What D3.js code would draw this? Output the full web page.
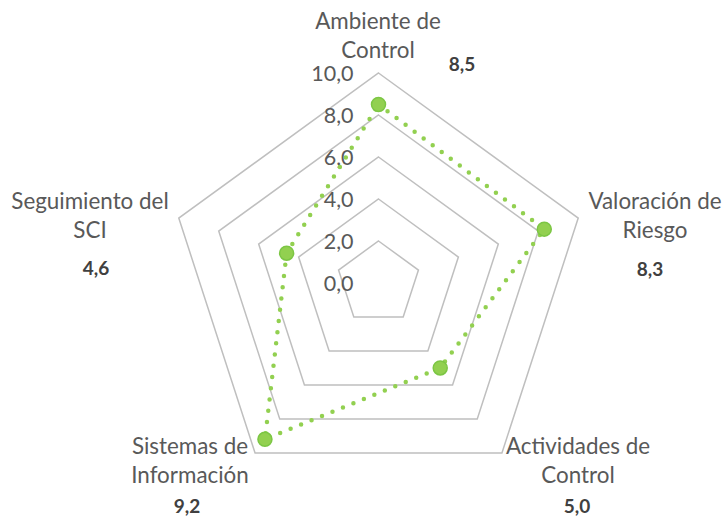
<!DOCTYPE html>
<html>
<head>
<meta charset="utf-8">
<script src="https://cdn.jsdelivr.net/npm/d3@7"></script>
<style>
  html, body { margin: 0; padding: 0; background: #ffffff; }
  svg { display: block; }
</style>
</head>
<body>
<svg id="chart" width="722" height="516"></svg>
<script>
// ---- data ----
const categories = [
  ["Ambiente de", "Control"],
  ["Valoración de", "Riesgo"],
  ["Actividades de", "Control"],
  ["Sistemas de", "Información"],
  ["Seguimiento del", "SCI"]
];
const values = [8.5, 8.3, 5.0, 9.2, 4.6];
const tickValues = [0, 2, 4, 6, 8, 10];
const tickLabels = ["0,0", "2,0", "4,0", "6,0", "8,0", "10,0"];

// ---- layout ----
const cx = 378.5, cy = 283, R = 210;
const fontFamily = "Lato, 'Open Sans', sans-serif";
// label placement (centre x, first line y, value label x, value label y)
const labelLayout = [
  { x: 378, y: 20,  vx: 462, vy: 63 },
  { x: 655, y: 200, vx: 650, vy: 268 },
  { x: 578, y: 445, vx: 577, vy: 505 },
  { x: 190, y: 445, vx: 187, vy: 505 },
  { x: 90,  y: 200, vx: 96,  vy: 267 }
];

const svg = d3.select("#chart");
const r = d3.scaleLinear().domain([0, 10]).range([0, R]);
const angle = d3.scaleLinear().domain([0, categories.length]).range([0, 2 * Math.PI]);

const pt = (i, v) => {
  const a = angle(i);
  return [cx + r(v) * Math.sin(a), cy - r(v) * Math.cos(a)];
};

// grid pentagons (levels > 0)
const g = svg.append("g");
tickValues.filter(t => t > 0).forEach(t => {
  const pts = categories.map((c, i) => pt(i, t));
  g.append("path")
    .attr("d", d3.line()(pts) + "Z")
    .attr("fill", "none")
    .attr("stroke", "#bfbfbf")
    .attr("stroke-width", 1.5);
});

// tick labels
tickValues.forEach((t, k) => {
  svg.append("text")
    .attr("x", cx - 25)
    .attr("y", cy - r(t))
    .attr("text-anchor", "end")
    .attr("dominant-baseline", "central")
    .attr("font-family", fontFamily)
    .attr("font-size", 21.5)
    .attr("fill", "#595959")
    .text(tickLabels[k]);
});

// series line (dotted)
const linePts = values.map((v, i) => pt(i, v));
svg.append("path")
  .attr("d", d3.line()(linePts) + "Z")
  .attr("fill", "none")
  .attr("stroke", "#92d050")
  .attr("stroke-width", 4.5)
  .attr("stroke-linecap", "round")
  .attr("stroke-dasharray", "0 11.3");

// markers
svg.selectAll("circle.m").data(values).enter().append("circle")
  .attr("class", "m")
  .attr("cx", (d, i) => pt(i, d)[0])
  .attr("cy", (d, i) => pt(i, d)[1])
  .attr("r", 7)
  .attr("fill", "#92d050")
  .attr("stroke", "#7cc644")
  .attr("stroke-width", 1.5);

// category labels
categories.forEach((lines, i) => {
  const L = labelLayout[i];
  const t = svg.append("text")
    .attr("text-anchor", "middle")
    .attr("font-family", fontFamily)
    .attr("font-size", 22.4)
    .attr("fill", "#595959");
  lines.forEach((ln, j) => {
    t.append("tspan")
      .attr("x", L.x)
      .attr("y", L.y + j * 29.5)
      .attr("dominant-baseline", "central")
      .text(ln);
  });
  svg.append("text")
    .attr("x", L.vx)
    .attr("y", L.vy)
    .attr("text-anchor", "middle")
    .attr("dominant-baseline", "central")
    .attr("font-family", fontFamily)
    .attr("font-size", 19)
    .attr("font-weight", "bold")
    .attr("fill", "#404040")
    .text(d3.format(".1f")(values[i]).replace(".", ","));
});
</script>
</body>
</html>
